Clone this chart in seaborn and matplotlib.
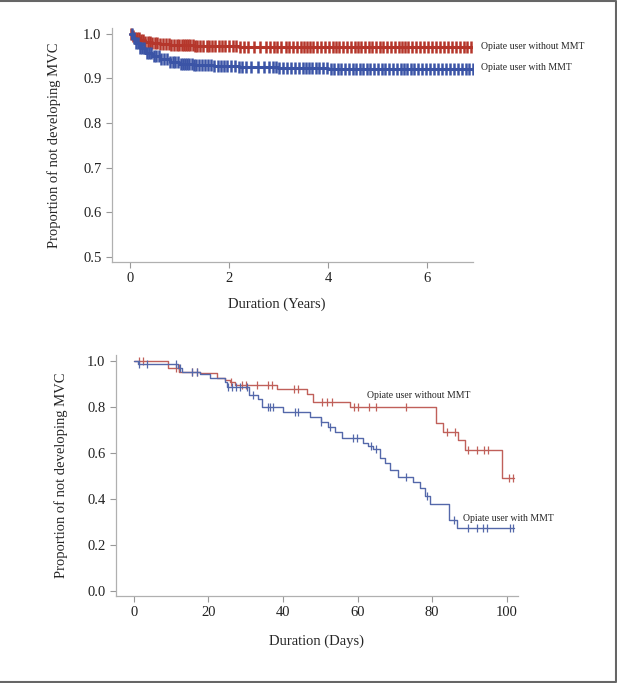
import numpy as np
import matplotlib
matplotlib.use("Agg")
import matplotlib.pyplot as plt
import seaborn as sns
from matplotlib.lines import Line2D

# ---- top panel: follow-up in years ----
top_red_t = [0, 0.05, 0.1, 0.2, 0.3, 0.45, 0.6, 0.8, 1.0, 1.3, 1.7, 2.2, 3.0, 7.0]
top_red_s = [1.0, 0.995, 0.99, 0.986, 0.982, 0.979, 0.977, 0.975, 0.974, 0.973, 0.972, 0.971, 0.970, 0.970]
top_blue_t = [0, 0.05, 0.1, 0.2, 0.3, 0.45, 0.6, 0.8, 1.0, 1.3, 1.7, 2.2, 3.0, 4.0, 7.0]
top_blue_s = [1.0, 0.99, 0.98, 0.968, 0.958, 0.95, 0.943, 0.937, 0.933, 0.93, 0.927, 0.925, 0.923, 0.922, 0.922]

top_red_cens = [0.03, 0.06, 0.1, 0.14, 0.18, 0.22, 0.27, 0.31, 0.36, 0.4, 0.45, 0.5, 0.55, 0.6,
                0.66, 0.72, 0.78, 0.83, 0.88, 0.94, 1.0, 1.05, 1.1, 1.14, 1.18, 1.22, 1.27, 1.31,
                1.36, 1.42, 1.47, 1.55, 1.6, 1.66, 1.72, 1.8, 1.86, 1.92, 2.0, 2.08, 2.15, 2.22,
                2.3, 2.38, 2.5, 2.62, 2.75, 2.82, 2.9, 2.98, 3.05, 3.15, 3.22, 3.3, 3.38, 3.45,
                3.52, 3.58, 3.64, 3.7, 3.78, 3.86, 3.95, 4.02, 4.1, 4.16, 4.22, 4.3, 4.38, 4.46,
                4.54, 4.6, 4.67, 4.74, 4.82, 4.9, 4.98, 5.05, 5.12, 5.2, 5.28, 5.36, 5.44, 5.5,
                5.56, 5.62, 5.7, 5.78, 5.86, 5.94, 6.02, 6.1, 6.18, 6.26, 6.34, 6.42, 6.5, 6.58,
                6.66, 6.74, 6.82, 6.9, 6.98]
top_blue_cens = [0.04, 0.08, 0.12, 0.16, 0.21, 0.25, 0.29, 0.34, 0.38, 0.43, 0.48, 0.53, 0.58,
                 0.63, 0.69, 0.74, 0.8, 0.86, 0.91, 0.97, 1.03, 1.08, 1.12, 1.16, 1.2, 1.25, 1.3,
                 1.34, 1.39, 1.45, 1.52, 1.58, 1.64, 1.7, 1.77, 1.84, 1.9, 1.97, 2.05, 2.12, 2.2,
                 2.27, 2.35, 2.45, 2.58, 2.7, 2.8, 2.88, 2.95, 3.02, 3.1, 3.18, 3.26, 3.34, 3.42,
                 3.5, 3.56, 3.62, 3.68, 3.75, 3.82, 3.9, 3.98, 4.06, 4.13, 4.2, 4.27, 4.34, 4.42,
                 4.5, 4.57, 4.64, 4.71, 4.78, 4.86, 4.94, 5.02, 5.09, 5.16, 5.24, 5.32, 5.4, 5.47,
                 5.53, 5.6, 5.67, 5.74, 5.82, 5.9, 5.98, 6.06, 6.14, 6.22, 6.3, 6.38, 6.46, 6.54,
                 6.62, 6.7, 6.78, 6.86, 6.94, 6.98]

# ---- bottom panel: follow-up in days ----
bot_red_t = [0, 9.2, 12.2, 17.7, 22.2, 24.4, 25.7, 27, 38.3, 46.3, 48, 58, 81, 82.8, 86.8, 88.7, 98.8, 102]
bot_red_s = [1.0, 0.968, 0.954, 0.947, 0.925, 0.917, 0.907, 0.897, 0.878, 0.858, 0.821, 0.798,
             0.73, 0.693, 0.657, 0.613, 0.49, 0.49]
bot_blue_t = [0, 1, 11.9, 12.8, 17.7, 20.4, 24.5, 25.1, 30.9, 33.3, 34.4, 40, 47.2, 50.1, 52.1,
              54.0, 55.7, 61.5, 62.8, 64.2, 66, 67.3, 68.6, 70.9, 74.9, 76.7, 78, 79.4, 84.5, 86.7, 102]
bot_blue_s = [1.0, 0.987, 0.968, 0.954, 0.944, 0.926, 0.907, 0.888, 0.852, 0.834, 0.80, 0.778,
              0.755, 0.735, 0.711, 0.69, 0.667, 0.642, 0.63, 0.616, 0.577, 0.555, 0.526, 0.497,
              0.473, 0.447, 0.413, 0.378, 0.31, 0.273, 0.273]

bot_red_cens = [1.5, 2.5, 11.3, 12.1, 15.5, 16.8, 26, 29, 30, 33, 36, 37, 43, 44, 50.4, 51.7, 53,
                59, 60, 63, 65, 73, 84, 86, 89.5, 92, 94, 95, 100.5, 101.6]
bot_blue_cens = [1.4, 3.4, 11.4, 12.3, 15.5, 16.8, 25.2, 26.2, 27.5, 28.4, 30.2, 32, 35.9, 36.6,
                 37.3, 43.2, 44, 50.3, 52.5, 58.8, 59.8, 63.5, 65, 73, 78.7, 85.8, 89.5, 92, 93.6,
                 94.6, 100.8, 101.6]

label_without = "Opiate user without MMT"
label_with = "Opiate user with MMT"

sns.set_theme(style="ticks")
plt.rcParams["font.family"] = ["Liberation Serif", "DejaVu Serif"]

fig = plt.figure(figsize=(6.17, 6.83), dpi=100)
ax1 = fig.add_axes([0.1815, 0.6164, 0.585, 0.3426])
ax2 = fig.add_axes([0.188, 0.1274, 0.6515, 0.3529])


def step_at(t, s, c):
    idx = np.searchsorted(t, c, side="right") - 1
    return np.asarray(s)[idx]


def km(ax, t, s, cens, color, lw, ms, mew):
    sns.lineplot(x=t, y=s, drawstyle="steps-post", color=color, lw=lw, ax=ax, estimator=None)
    ax.plot(cens, step_at(t, s, cens), ls="none", marker="|", ms=ms, mew=mew, color=color)


km(ax1, top_red_t, top_red_s, top_red_cens, "#b5362b", 2.2, 9, 1.8)
km(ax1, top_blue_t, top_blue_s, top_blue_cens, "#3b54a6", 2.2, 9, 1.8)
ax1.text(7.1, 0.972, label_without, fontsize=7, va="center", ha="left")
ax1.text(7.1, 0.924, label_with, fontsize=7, va="center", ha="left")
ax1.set_xlim(-0.364, 6.93)
ax1.set_ylim(0.489, 1.013)
ax1.set_xticks([0, 2, 4, 6])
ax1.set_yticks([0.5, 0.6, 0.7, 0.8, 0.9, 1.0])
ax1.set_xlabel("Duration (Years)", fontsize=10.5)
ax1.set_ylabel("Proportion of not developing MVC", fontsize=10.5)
ax1.xaxis.set_label_coords(0.457, -0.15)
ax1.yaxis.set_label_coords(-0.14, 0.5)

km(ax2, bot_red_t, bot_red_s, bot_red_cens, "#c0605a", 1.0, 6, 0.9)
km(ax2, bot_blue_t, bot_blue_s, bot_blue_cens, "#5468aa", 1.0, 6, 0.9)
ax2.text(62.5, 0.85, label_without, fontsize=7, va="center", ha="left")
ax2.text(88.3, 0.313, label_with, fontsize=7, va="center", ha="left")
ax2.set_xlim(-4.8, 103)
ax2.set_ylim(-0.022, 1.026)
ax2.set_xticks([0, 20, 40, 60, 80, 100])
ax2.set_yticks([0.0, 0.2, 0.4, 0.6, 0.8, 1.0])
ax2.set_xlabel("Duration (Days)", fontsize=10.5)
ax2.set_ylabel("Proportion of not developing MVC", fontsize=10.5)
ax2.xaxis.set_label_coords(0.5, -0.158)
ax2.yaxis.set_label_coords(-0.12, 0.5)

for ax in (ax1, ax2):
    sns.despine(ax=ax)
    for sp in ("left", "bottom"):
        ax.spines[sp].set_color("#b0b0b0")
        ax.spines[sp].set_linewidth(0.9)
    ax.tick_params(colors="#999999", labelcolor="#222222", labelsize=10.5, length=4, width=0.8)

# frame: top, right and bottom edges only
fig.lines.append(Line2D([0, 0.998, 0.998, 0], [0.998, 0.998, 0.002, 0.002],
                        transform=fig.transFigure, color="#666666", lw=1.5))

fig.savefig("out.png", dpi=100)
